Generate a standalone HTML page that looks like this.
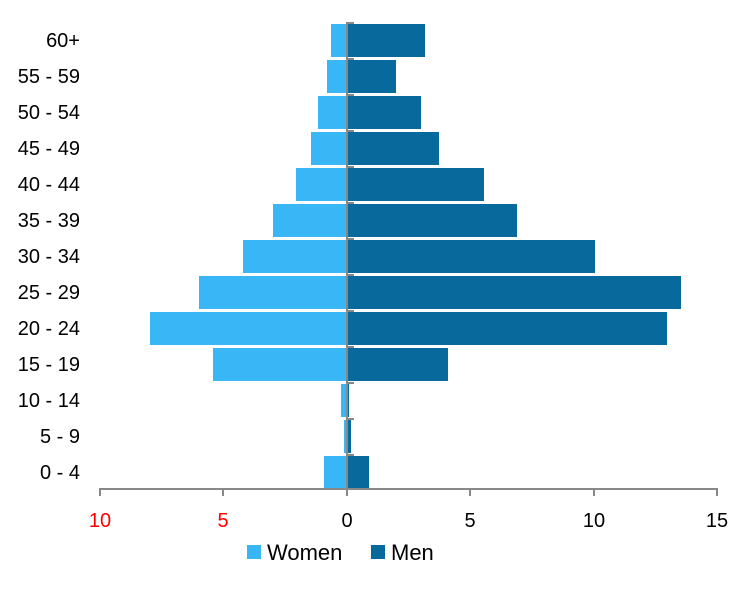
<!DOCTYPE html>
<html><head><meta charset="utf-8"><style>body{margin:0;background:#fff}</style></head><body>
<svg width="752" height="601" xmlns="http://www.w3.org/2000/svg" font-family="Liberation Sans, sans-serif" font-size="20">
<g fill="#38b6f5">
<rect x="331" y="24" width="16" height="33"/><rect x="327" y="60" width="20" height="33"/><rect x="318" y="96" width="29" height="33"/><rect x="311" y="132" width="36" height="33"/><rect x="296" y="168" width="51" height="33"/><rect x="273" y="204" width="74" height="33"/><rect x="243" y="240" width="104" height="33"/><rect x="199" y="276" width="148" height="33"/><rect x="150" y="312" width="197" height="33"/><rect x="213" y="348" width="134" height="33"/><rect x="341" y="384" width="6" height="33"/><rect x="344" y="420" width="3" height="33"/><rect x="324" y="456" width="23" height="33"/>
</g>
<g fill="#086a9c">
<rect x="347" y="24" width="78" height="33"/><rect x="347" y="60" width="49" height="33"/><rect x="347" y="96" width="74" height="33"/><rect x="347" y="132" width="92" height="33"/><rect x="347" y="168" width="137" height="33"/><rect x="347" y="204" width="170" height="33"/><rect x="347" y="240" width="248" height="33"/><rect x="347" y="276" width="334" height="33"/><rect x="347" y="312" width="320" height="33"/><rect x="347" y="348" width="101" height="33"/><rect x="347" y="384" width="2" height="33"/><rect x="347" y="420" width="4" height="33"/><rect x="347" y="456" width="22" height="33"/>
</g>
<g stroke="#888" stroke-width="2">
<line x1="347" y1="22" x2="347" y2="489"/>
<line x1="347" y1="23" x2="354" y2="23"/><line x1="347" y1="59" x2="354" y2="59"/><line x1="347" y1="95" x2="354" y2="95"/><line x1="347" y1="131" x2="354" y2="131"/><line x1="347" y1="167" x2="354" y2="167"/><line x1="347" y1="203" x2="354" y2="203"/><line x1="347" y1="239" x2="354" y2="239"/><line x1="347" y1="275" x2="354" y2="275"/><line x1="347" y1="311" x2="354" y2="311"/><line x1="347" y1="347" x2="354" y2="347"/><line x1="347" y1="383" x2="354" y2="383"/><line x1="347" y1="419" x2="354" y2="419"/><line x1="347" y1="455" x2="354" y2="455"/>
<line x1="99" y1="489" x2="718" y2="489"/>
<line x1="100" y1="489" x2="100" y2="496"/><line x1="223" y1="489" x2="223" y2="496"/><line x1="347" y1="489" x2="347" y2="496"/><line x1="470" y1="489" x2="470" y2="496"/><line x1="594" y1="489" x2="594" y2="496"/><line x1="717" y1="489" x2="717" y2="496"/>
</g>
<g text-anchor="end" fill="#000">
<text x="80" y="47">60+</text><text x="80" y="83">55 - 59</text><text x="80" y="119">50 - 54</text><text x="80" y="155">45 - 49</text><text x="80" y="191">40 - 44</text><text x="80" y="227">35 - 39</text><text x="80" y="263">30 - 34</text><text x="80" y="299">25 - 29</text><text x="80" y="335">20 - 24</text><text x="80" y="371">15 - 19</text><text x="80" y="407">10 - 14</text><text x="80" y="443">5 - 9</text><text x="80" y="479">0 - 4</text>
</g>
<g text-anchor="middle">
<text x="100" y="527" fill="#f00">10</text><text x="223" y="527" fill="#f00">5</text><text x="347" y="527">0</text><text x="470" y="527">5</text><text x="594" y="527">10</text><text x="717" y="527">15</text>
</g>
<rect x="247" y="545" width="14" height="14" fill="#38b6f5"/><text x="267" y="560" font-size="22">Women</text>
<rect x="371" y="545" width="14" height="14" fill="#086a9c"/><text x="391" y="560" font-size="22">Men</text>
</svg>
</body></html>
